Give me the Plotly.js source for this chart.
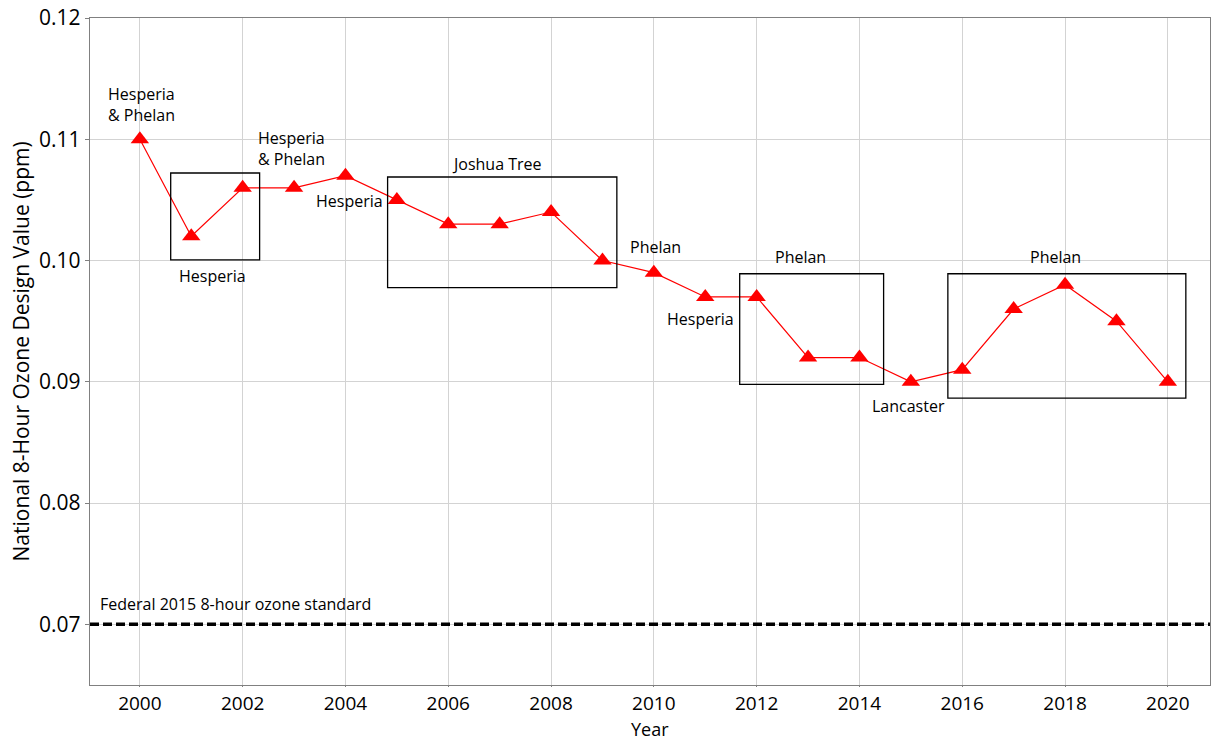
<!DOCTYPE html>
<html>
<head>
<meta charset="utf-8">
<script src="https://cdn.plot.ly/plotly-3.0.1.min.js"></script>
<style>html,body{margin:0;padding:0;background:#fff;}#chart{width:1211px;height:740px;}</style>
</head>
<body>
<div id="chart"></div>
<script>
const years = [2000,2001,2002,2003,2004,2005,2006,2007,2008,2009,2010,2011,2012,2013,2014,2015,2016,2017,2018,2019,2020];
const designValues = [0.110,0.102,0.106,0.106,0.107,0.105,0.103,0.103,0.104,0.100,0.099,0.097,0.097,0.092,0.092,0.090,0.091,0.096,0.098,0.095,0.090];
const standardValue = 0.07;
const standardLabel = "Federal 2015 8-hour ozone standard";
const siteLabels = ["Hesperia<br>& Phelan","Hesperia","Hesperia<br>& Phelan","Hesperia","Joshua Tree","Phelan","Hesperia","Phelan","Lancaster","Phelan"];
const labelX = [1999.34,2001.42,2002.26,2004.07,2006.95,2010.04,2010.91,2012.86,2014.96,2017.82];
const labelY = [0.1129,0.0987,0.10925,0.1049,0.1080,0.1011,0.0952,0.1003,0.0880,0.1003];
const labelAlign = ["left","center","left","center","center","center","center","center","center","center"];
const boxX0 = [2000.6,2004.82,2011.67,2015.72];
const boxX1 = [2002.33,2009.28,2014.47,2020.35];
const boxY0 = [0.10005,0.09777,0.08979,0.08865];
const boxY1 = [0.10722,0.10689,0.09891,0.09891];
const xTitle = "Year";
const yTitle = "National 8-Hour Ozone Design Value (ppm)";

const annFont = {family:"'Open Sans', sans-serif", size:16, color:"#000"};
const annotations = siteLabels.map((t,i)=>({
  x:labelX[i], y:labelY[i], xref:"x", yref:"y", text:t, showarrow:false,
  xanchor:labelAlign[i], yanchor:"middle", align:"left", font:annFont
}));
annotations.push({x:1999.18, y:0.0717, xref:"x", yref:"y", text:standardLabel, showarrow:false,
  xanchor:"left", yanchor:"middle", font:annFont});
const titleFont = {family:"'Open Sans', sans-serif", size:21, color:"#000"};
annotations.push({x:0.5, y:0, xref:"paper", yref:"paper", text:xTitle, showarrow:false,
  xanchor:"center", yanchor:"bottom", yshift:-57, borderpad:0, font:{family:"'Open Sans', sans-serif", size:18, color:"#000"}});
annotations.push({x:0, y:0.5, xref:"paper", yref:"paper", text:yTitle, showarrow:false, textangle:-90,
  xanchor:"center", yanchor:"middle", xshift:-70, font:titleFont});

const shapes = boxX0.map((x0,i)=>({type:"rect", xref:"x", yref:"y", x0:x0, x1:boxX1[i], y0:boxY0[i], y1:boxY1[i],
  line:{color:"#000", width:1.3}, fillcolor:"rgba(0,0,0,0)"}));
shapes.push({type:"line", xref:"paper", yref:"y", x0:0, x1:1, y0:standardValue, y1:standardValue,
  line:{color:"#000", width:3.5, dash:"9px,4px"}});

const trace = {x:years, y:designValues, type:"scatter", mode:"lines+markers",
  line:{color:"#ff0000", width:1.2},
  marker:{symbol:"triangle-up", size:16, color:"#ff0000"}, showlegend:false, cliponaxis:false};

const tickFont = {family:"'Open Sans', 'DejaVu Sans', sans-serif", size:21, color:"#000"};
const layout = {
  width:1211, height:740,
  margin:{l:90, r:1, t:18, b:55, pad:0},
  paper_bgcolor:"#fff", plot_bgcolor:"#fff",
  showlegend:false,
  xaxis:{range:[1999.03,2020.82], tickvals:[2000,2002,2004,2006,2008,2010,2012,2014,2016,2018,2020],
    showgrid:true, gridcolor:"#d3d3d3", gridwidth:1, zeroline:false,
    showline:true, linecolor:"#808080", linewidth:1.3, mirror:true,
    ticks:"outside", ticklen:1, tickcolor:"#808080",
    tickfont:{family:"'Open Sans', sans-serif", size:19, color:"#000"}},
  yaxis:{range:[0.065,0.12], tickvals:[0.07,0.08,0.09,0.10,0.11,0.12], ticktext:["0.07","0.08","0.09","0.10","0.11","0.12"],
    showgrid:true, gridcolor:"#d3d3d3", gridwidth:1, zeroline:false,
    showline:true, linecolor:"#808080", linewidth:1.3, mirror:true,
    ticks:"outside", ticklen:4, tickcolor:"#808080",
    tickfont:tickFont},
  annotations:annotations, shapes:shapes
};
Plotly.newPlot("chart", [trace], layout, {displayModeBar:false, staticPlot:true});
</script>
</body>
</html>
